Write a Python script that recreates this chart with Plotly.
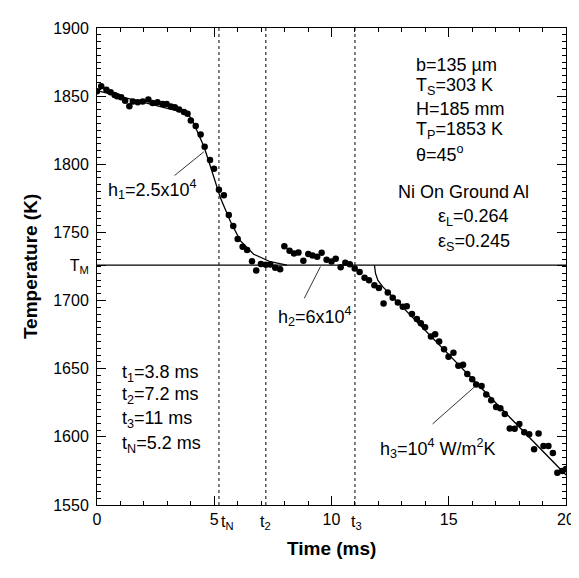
import plotly.graph_objects as go

time_ms = [0.0, 0.18, 0.40, 0.58, 0.75, 0.86, 1.03, 1.20, 1.38, 1.53, 1.74, 1.95, 2.19, 2.37, 2.58,
           2.80, 2.97, 3.15, 3.32, 3.50, 3.71, 3.86, 4.00, 4.21, 4.42, 4.59, 4.82, 4.99, 5.20, 5.41,
           5.62, 5.81, 6.00, 6.21, 6.40, 6.61, 6.79, 6.99, 7.20, 7.39, 7.60, 7.81, 7.99, 8.21, 8.40,
           8.59, 8.80, 9.01, 9.19, 9.39, 9.58, 9.79, 10.00, 10.18, 10.39, 10.59, 10.78, 10.99, 11.20,
           11.41, 11.60, 11.83, 12.02, 12.22, 12.40, 12.61, 12.83, 13.04, 13.21, 13.43, 13.64, 13.81,
           13.99, 14.24, 14.42, 14.59, 14.80, 14.99, 15.20, 15.41, 15.61, 15.79, 16.00, 16.17, 16.40,
           16.60, 16.81, 17.02, 17.20, 17.39, 17.60, 17.81, 18.01, 18.22, 18.43, 18.64, 18.83, 19.04,
           19.25, 19.44, 19.63, 19.84, 20.0]
temp_k = [1853.5, 1857.2, 1854.7, 1852.8, 1850.9, 1849.9, 1849.2, 1846.7, 1842.6, 1846.0, 1845.5,
          1846.0, 1847.5, 1845.0, 1845.5, 1844.3, 1844.3, 1842.4, 1841.9, 1840.2, 1838.3, 1837.1,
          1832.2, 1828.1, 1821.8, 1812.9, 1803.2, 1796.7, 1781.4, 1777.3, 1762.7, 1754.8, 1745.1,
          1739.5, 1737.1, 1728.9, 1722.1, 1726.9, 1726.2, 1726.4, 1724.0, 1723.0, 1739.8, 1736.6,
          1734.6, 1735.2, 1729.3, 1734.2, 1733.0, 1732.2, 1735.0, 1730.0, 1728.7, 1730.6, 1724.5,
          1727.7, 1726.6, 1723.5, 1720.9, 1716.8, 1715.0, 1711.2, 1709.2, 1697.9, 1705.9, 1702.0,
          1698.6, 1695.4, 1695.9, 1690.1, 1686.5, 1683.4, 1680.5, 1673.7, 1675.2, 1670.0, 1664.3,
          1658.7, 1661.8, 1652.2, 1653.0, 1646.1, 1642.2, 1638.4, 1637.4, 1631.0, 1626.8, 1621.9,
          1621.0, 1616.8, 1606.2, 1605.9, 1609.5, 1603.4, 1602.0, 1590.9, 1602.5, 1593.3, 1593.3,
          1588.2, 1573.7, 1574.9, 1576.4]

# model curves
fit1_t = [0.0, 1.0, 2.0, 3.0, 3.6, 3.9, 4.1, 4.56, 4.77, 5.27, 5.69, 6.11, 6.68, 7.39, 8.1]
fit1_T = [1854, 1849.5, 1845, 1841, 1838.5, 1836.5, 1831, 1813, 1802, 1775, 1758, 1744, 1734, 1728.5, 1726]
fit3_t = [11.83, 11.88, 11.98, 12.19, 20.0]
fit3_T = [1726, 1719.7, 1714.8, 1710, 1572]

t_melt = 1726
t_marks = [5.2, 7.2, 11.0]
t_mark_labels = ["t<sub>N</sub>", "t<sub>2</sub>", "t<sub>3</sub>"]
t_mark_label_x = [5.55, 7.2, 11.06]

FONT = "Arial, Liberation Sans, sans-serif"

fig = go.Figure()
fig.add_trace(go.Scatter(x=[0, 20], y=[t_melt, t_melt], mode="lines",
                         line=dict(color="black", width=1.3)))
fig.add_trace(go.Scatter(x=fit1_t, y=fit1_T, mode="lines", line=dict(color="black", width=1.3)))
fig.add_trace(go.Scatter(x=fit3_t, y=fit3_T, mode="lines", line=dict(color="black", width=1.3)))
fig.add_trace(go.Scatter(x=time_ms, y=temp_k, mode="markers",
                         marker=dict(color="black", size=6.5)))

for t in t_marks:
    fig.add_shape(type="line", x0=t, x1=t, y0=0, y1=1, yref="paper",
                  line=dict(color="black", width=1, dash="dot"))

# leader lines for the h labels
leaders = [((3.31, 1791.8), (4.56, 1809.2)),
           ((8.84, 1701.7), (9.53, 1725.0)),
           ((14.31, 1609.5), (16.14, 1637.3))]
for (xa, ya), (xb, yb) in leaders:
    fig.add_shape(type="line", x0=xa, y0=ya, x1=xb, y1=yb, line=dict(color="black", width=0.8))

notes = [
    ("b=135 µm", 13.5, 1873.1, "left"),
    ("T<sub>S</sub>=303 K", 13.5, 1857.2, "left"),
    ("H=185 mm", 13.5, 1840.5, "left"),
    ("T<sub>P</sub>=1853 K", 13.5, 1824.5, "left"),
    ("θ=45<sup>o</sup>", 13.5, 1807.8, "left"),
    ("Ni On Ground Al", 15.64, 1779.4, "center"),
    ("ε<sub>L</sub>=0.264", 14.45, 1760.6, "left"),
    ("ε<sub>S</sub>=0.245", 14.45, 1742.4, "left"),
    ("t<sub>1</sub>=3.8 ms", 1.0, 1646.4, "left"),
    ("t<sub>2</sub>=7.2 ms", 1.0, 1630.5, "left"),
    ("t<sub>3</sub>=11 ms", 1.0, 1612.6, "left"),
    ("t<sub>N</sub>=5.2 ms", 1.0, 1594.6, "left"),
    ("h<sub>1</sub>=2.5x10<sup>4</sup>", 0.38, 1781.6, "left"),
    ("h<sub>2</sub>=6x10<sup>4</sup>", 10.96, 1688.5, "right"),
    ("h<sub>3</sub>=10<sup>4</sup> W/m<sup>2</sup>K", 17.12, 1591.4, "right"),
]
for text, x, y, anchor in notes:
    fig.add_annotation(text=text, x=x, y=y, xanchor=anchor, yanchor="middle", showarrow=False,
                       font=dict(family=FONT, size=18, color="black"))

for lab, x in zip(t_mark_labels, t_mark_label_x):
    fig.add_annotation(text=lab, x=x, y=-0.012, yref="paper", xanchor="center", yanchor="top",
                       showarrow=False, font=dict(family=FONT, size=16, color="black"))

fig.add_annotation(text="<b>Time (ms)</b>", x=0.5, y=-0.091, xref="paper", yref="paper",
                   xanchor="center", yanchor="middle", showarrow=False,
                   font=dict(family=FONT, size=19, color="black"))
fig.add_annotation(text="<b>Temperature (K)</b>", x=-0.1416, y=0.5, xref="paper", yref="paper",
                   textangle=-90, xanchor="center", yanchor="middle", showarrow=False,
                   font=dict(family=FONT, size=19, color="black"))

ytick_vals = [1550, 1600, 1650, 1700, 1750, 1800, 1850, 1900, t_melt]
ytick_text = ["1550", "1600", "1650", "1700", "1750", "1800", "1850", "1900", "T<sub>M</sub>"]

fig.update_layout(
    width=579, height=578,
    margin=dict(l=89, r=17, t=15, b=81),
    plot_bgcolor="white", paper_bgcolor="white",
    showlegend=False,
    font=dict(family=FONT, size=16, color="black"),
    xaxis=dict(range=[0, 20], tickvals=[0, 5, 10, 15, 20], ticks="inside", ticklen=9,
               tickcolor="black", showline=True, linecolor="black", linewidth=1,
               mirror="allticks", showgrid=False, zeroline=False,
               tickfont=dict(family=FONT, size=16),
               minor=dict(ticks="inside", ticklen=4, tick0=0, dtick=1, tickcolor="black",
                          showgrid=False)),
    yaxis=dict(range=[1550, 1900], tickvals=ytick_vals, ticktext=ytick_text, ticks="inside",
               ticklen=9, tickcolor="black", showline=True, linecolor="black", linewidth=1,
               mirror="allticks", showgrid=False, zeroline=False,
               tickfont=dict(family=FONT, size=16), ticklabelstandoff=4,
               minor=dict(ticks="inside", ticklen=4, tick0=1550, dtick=5, tickcolor="black",
                          showgrid=False)),
)

fig.write_html("out.html")
